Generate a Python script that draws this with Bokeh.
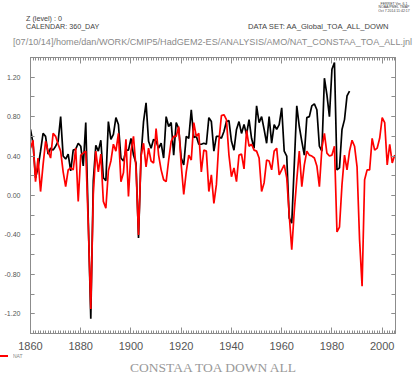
from bokeh.plotting import figure
from bokeh.layouts import column
from bokeh.models import (Range1d, LinearAxis, FixedTicker, NumeralTickFormatter,
                          CustomJSTickFormatter, Div)
from bokeh.embed import file_html
from bokeh.resources import INLINE

# ---- data (annual values) ----
all_years = list(range(1860, 1988))
all_vals = [
    0.67, 0.53, 0.18, 0.28, 0.45, 0.63, 0.60, 0.42, 0.48, 0.46,   # 1860-69
    0.50, 0.55, 0.80, 0.40, 0.37, 0.42, 0.25, 0.46, 0.47, 0.53,   # 1870-79
    0.50, 0.30, 0.74, -0.25, -1.25, 0.15, 0.51, 0.45, 0.56, 0.18, # 1880-89
    0.15, 0.75, 0.57, 0.62, 0.79, 0.72, 0.38, 0.35, 0.46, 0.46,   # 1890-99
    0.58, 0.41, 0.33, -0.43, 0.40, 0.75, 0.94, 0.55, 0.48, 0.57,  # 1900-09
    0.55, 0.48, 0.53, 0.38, 0.80, 0.70, 0.74, 0.41, 0.74, 0.68,   # 1910-19
    0.38, 0.31, 0.60, 0.58, 0.87, 0.59, 0.60, 0.52, 0.52, 0.53,   # 1920-29
    0.52, 0.79, 0.75, 0.45, 0.60, 0.60, 0.58, 0.65, 0.75, 0.76,   # 1930-39
    0.55, 0.46, 0.67, 0.75, 0.63, 0.72, 0.62, 0.77, 0.58, 0.48,   # 1940-49
    0.91, 0.74, 0.80, 0.67, 0.53, 0.80, 0.53, 0.72, 0.67, 0.72,   # 1950-59
    0.89, 0.45, 0.40, -0.23, -0.28, 0.31, 0.91, 0.70, 0.55, 0.41, # 1960-69
    0.79, 0.80, 0.91, 0.93, 0.87, 0.50, 0.45, 1.19, 1.02, 0.80,   # 1970-79
    1.28, 1.35, 0.26, 0.28, 0.67, 0.77, 1.01, 1.06,               # 1980-87
]
nat_years = list(range(1860, 2006))
nat_vals = [
    0.48, 0.56, 0.14, 0.38, 0.04, 0.31, 0.55, 0.45, 0.38, 0.63,   # 1860-69
    0.60, 0.52, 0.45, 0.24, 0.09, 0.26, 0.28, 0.26, 0.48, -0.06,  # 1870-79
    0.41, 0.43, 0.45, -0.30, -1.15, 0.01, 0.45, 0.24, 0.42, -0.06,# 1880-89
    -0.13, 0.25, 0.35, 0.52, 0.45, 0.63, 0.14, 0.23, 0.57, -0.01, # 1890-99
    0.45, 0.60, 0.28, -0.40, 0.40, 0.53, 0.29, 0.48, 0.35, 0.33,  # 1900-09
    0.68, 0.41, 0.26, 0.16, 0.14, 0.36, 0.55, 0.60, 0.60, 0.70,   # 1910-19
    0.31, 0.01, 0.24, 0.41, 0.36, 0.74, 0.60, 0.63, 0.24, 0.46,   # 1920-29
    0.45, 0.04, 0.21, -0.08, 0.11, 0.55, 0.81, 0.82, 0.77, 0.41,  # 1930-39
    0.19, 0.28, 0.14, 0.41, 0.42, 0.27, 0.66, 0.50, 0.52, 0.46,   # 1940-49
    0.45, 0.38, 0.04, 0.13, 0.36, 0.35, 0.26, 0.45, 0.48, 0.21,   # 1950-59
    0.26, 0.31, 0.18, -0.20, -0.55, -0.16, 0.16, 0.45, 0.09, 0.31,# 1960-69
    0.45, 0.41, 0.40, 0.38, 0.30, 0.09, 0.48, 0.63, 0.43, 0.40,   # 1970-79
    0.41, 0.50, -0.37, -0.32, 0.11, 0.41, 0.26, 0.45, 0.56, 0.50, # 1980-89
    0.29, -0.45, -0.92, 0.16, 0.26, 0.26, 0.58, 0.46, 0.48, 0.58, # 1990-99
    0.79, 0.74, 0.31, 0.52, 0.33, 0.41,                           # 2000-05
]
x_major = [1860, 1880, 1900, 1920, 1940, 1960, 1980, 2000]
x_minor = list(range(1860, 2006))
y_major = [-1.2, -0.8, -0.4, 0.0, 0.4, 0.8, 1.2]
y_minor = [-1.4, -1.2, -1.0, -0.8, -0.6, -0.4, -0.2, 0.0, 0.2, 0.4, 0.6, 0.8, 1.0, 1.2, 1.4]
series_label = "NAT"
title_text = "CONSTAA TOA DOWN ALL"
header_lines = ["Z (level) : 0", "CALENDAR: 360_DAY", "DATA SET: AA_Global_TOA_ALL_DOWN",
                "[07/10/14]/home/dan/WORK/CMIP5/HadGEM2-ES/ANALYSIS/AMO/NAT_CONSTAA_TOA_ALL.jnl"]
stamp_lines = ["FERRET Ver. 6.1", "NOAA/PMEL TMAP", "Oct  7 2014 11:42:17"]

AXC = "#8c8c8c"
TXC = "#555555"
W = 419
HEAD_H, MAIN_H, FOOT_H = 50, 304, 20

SANS, SERIF = "'Liberation Sans'", "'Liberation Serif'"
K = {SANS: 0.8465, SERIF: 0.8375}   # baseline position within a line-height:1 box

def span(text, x, baseline, size, color, font=SANS, align="left", scale=1.0):
    """Absolutely positioned HTML text; (x, baseline) in px within the div."""
    top = baseline - K[font] * size * scale
    base = ("position:absolute;top:%.2fpx;font-family:%s;font-size:%.2fpx;"
            "line-height:1;color:%s;white-space:nowrap;" % (top, font, size, color))
    if align == "center":
        bw = 400
        base += "left:%.2fpx;width:%dpx;text-align:center;" % (x - bw / 2, bw)
        origin = "center top"
    else:
        base += "left:%.2fpx;" % x
        origin = "left top"
    if scale != 1.0:
        base += "transform:scale(%.3f);transform-origin:%s;" % (scale, origin)
    return '<div style="%s">%s</div>' % (base, text)

def box(inner, h):
    return ('<div style="position:relative;width:%dpx;height:%dpx;overflow:hidden;'
            'background:white">%s</div>' % (W, h, "".join(inner)))

# ---- header ----
head_items = [
    span(stamp_lines[0], 394, 4.5, 7, "#444444", align="center", scale=0.5),
    span(stamp_lines[1], 394, 8.0, 7, "#444444", align="center", scale=0.5),
    span(stamp_lines[2], 394, 11.5, 7, "#444444", align="center", scale=0.5),
    span(header_lines[0], 26, 21, 7.2, "#444444"),
    span(header_lines[1], 26, 29, 7.2, "#444444"),
    span(header_lines[2], 248, 29, 7.6, "#444444"),
    span(header_lines[3], 13, 45.5, 9.1, "#8a8a8a"),
]
head = Div(text=box(head_items, HEAD_H), width=W, height=HEAD_H, margin=(0, 0, 0, 0))

# ---- main plot ----
p = figure(width=W, height=MAIN_H, output_backend="svg", toolbar_location=None,
           x_range=Range1d(1860, 2005.3), y_range=Range1d(-1.4, 1.4),
           min_border_left=30, min_border_right=24, min_border_top=7,
           min_border_bottom=21)
p.grid.visible = False
p.outline_line_color = AXC
p.background_fill_color = "white"
p.border_fill_color = "white"

xt = FixedTicker(ticks=x_major, minor_ticks=x_minor)
yt = FixedTicker(ticks=y_major, minor_ticks=y_minor)
blank = CustomJSTickFormatter(code="return ''")

def style(ax, major_in, minor_in):
    ax.axis_line_color = AXC
    ax.major_tick_line_color = AXC
    ax.minor_tick_line_color = AXC
    ax.major_tick_out = 0
    ax.minor_tick_out = 0
    ax.major_tick_in = major_in
    ax.minor_tick_in = minor_in

bx = p.xaxis[0]
bx.ticker = xt
style(bx, 6, 3)
bx.major_label_text_font = "Liberation Sans"
bx.major_label_text_font_size = "11px"
bx.major_label_text_color = TXC
bx.major_label_standoff = 8

ly = p.yaxis[0]
ly.ticker = yt
style(ly, 4, 4)
ly.formatter = NumeralTickFormatter(format="0.00")
ly.major_label_text_font = "Liberation Sans"
ly.major_label_text_font_size = "7px"
ly.major_label_text_color = TXC
ly.major_label_standoff = 10

ry = LinearAxis(ticker=yt, formatter=blank, major_label_standoff=0,
                major_label_text_font_size="1px")
style(ry, 4, 4)
p.add_layout(ry, "right")
tx = LinearAxis(ticker=xt, formatter=blank, major_label_standoff=0,
                major_label_text_font_size="1px")
style(tx, 6, 3)
p.add_layout(tx, "above")

p.line(all_years, all_vals, line_color="black", line_width=1.7)
p.line(nat_years, nat_vals, line_color="#ff0000", line_width=1.7)

# ---- footer: legend key and bottom title ----
foot_items = [
    '<div style="position:absolute;left:0px;top:1.2px;width:7.5px;height:1.7px;'
    'background:#ff0000"></div>',
    span(series_label, 12.7, 3.8, 10, "#888888", scale=0.5),
    span(title_text, 213, 18.7, 13.5, "#999999", font=SERIF, align="center"),
]
foot = Div(text=box(foot_items, FOOT_H), width=W, height=FOOT_H, margin=(0, 0, 0, 0))

layout = column(head, p, foot, spacing=0)
open("out.html", "w").write(file_html(layout, INLINE))
